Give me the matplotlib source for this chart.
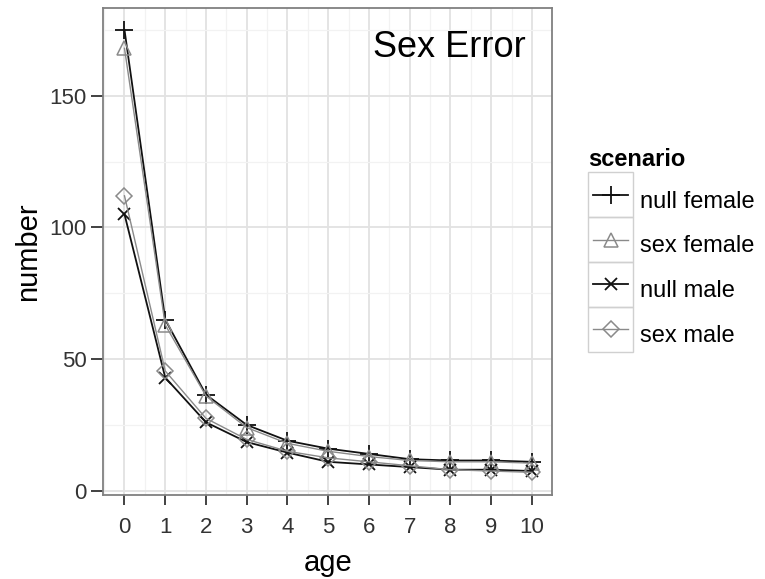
import matplotlib
matplotlib.use("Agg")
import matplotlib.pyplot as plt
from matplotlib.patches import Rectangle
from matplotlib.ticker import MultipleLocator

plt.rcParams['font.family'] = ['Liberation Sans', 'DejaVu Sans']

ages = [0, 1, 2, 3, 4, 5, 6, 7, 8, 9, 10]
null_female = [175, 65, 36.5, 25, 19, 16, 14, 12, 11.5, 11.5, 11]
sex_female = [168, 63, 36, 24, 18, 15, 13, 11.5, 11, 11, 10.5]
null_male = [105, 43, 26, 18.5, 14.5, 11, 10, 9, 8, 8, 7.5]
sex_male = [112, 45.5, 27.5, 19.5, 15, 12.5, 11, 9.5, 8, 7.5, 7]
series_names = ["null female", "sex female", "null male", "sex male"]
y_ticks = [0, 50, 100, 150]
x_ticks = ages

BLACK = '#111111'
GRAY = '#8A8A8A'
styles = [
    dict(color=BLACK, marker='+', ms=13, mew=1.3, lw=1.3),
    dict(color=GRAY, marker='^', ms=10, mew=1.1, lw=1.0, mfc='none'),
    dict(color=BLACK, marker='x', ms=9, mew=1.3, lw=1.3),
    dict(color=GRAY, marker='D', ms=8, mew=1.1, lw=1.0, mfc='none'),
]
data = [null_female, sex_female, null_male, sex_male]

fig = plt.figure(figsize=(7.65, 5.79), dpi=100)
ax = fig.add_axes([103.3 / 765, 1 - 495 / 579, (552.3 - 103.3) / 765, (495 - 8.3) / 579])

handles = []
for name, vals, st in zip(series_names, data, styles):
    h, = ax.plot(ages, vals, label=name, zorder=3, **st)
    handles.append(h)

ax.set_xlim(-0.52, 10.5)
ax.set_ylim(-1.6, 183.2)
ax.set_xticks(x_ticks)
ax.set_yticks(y_ticks)
ax.xaxis.set_minor_locator(MultipleLocator(0.5))
ax.yaxis.set_minor_locator(MultipleLocator(25))
ax.grid(which='major', color='#E2E2E2', lw=1.3, zorder=0)
ax.grid(which='minor', color='#F2F2F2', lw=0.9, zorder=0)
ax.set_axisbelow(True)
ax.tick_params(which='minor', length=0)
ax.tick_params(axis='x', which='major', length=7, width=1.3, color='#333333',
               labelsize=16, labelcolor='#333333', pad=9)
ax.tick_params(axis='y', which='major', length=9, width=1.3, color='#333333',
               labelsize=16, labelcolor='#333333', pad=3)
for sp in ax.spines.values():
    sp.set_color('#808080')
    sp.set_linewidth(1.3)

ax.set_xlabel('age', fontsize=21, labelpad=8)
ax.set_ylabel('number', fontsize=21, labelpad=5)
ax.text(0.77, 0.955, 'Sex Error', transform=ax.transAxes, fontsize=26,
        ha='center', va='top', color='black')

fig.text(588 / 765, 1 - 160 / 579, 'scenario', fontsize=17, fontweight='bold',
         ha='left', va='center')

leg = fig.legend(handles=handles, labels=series_names, loc='upper left',
                 bbox_to_anchor=(593 / 765, 1 - 182 / 579),
                 frameon=False, fontsize=17,
                 handlelength=1.5, handleheight=2.0, labelspacing=0.35,
                 handletextpad=0.5, borderpad=0.0, borderaxespad=0.0)

fig.canvas.draw()
renderer = fig.canvas.get_renderer()
for lh in leg.legend_handles:
    bb = lh.get_window_extent(renderer)
    cy = (bb.y0 + bb.y1) / 2
    cx = (bb.x0 + bb.x1) / 2
    rect = Rectangle((cx - 22.5, cy - 22.5), 45, 45, transform=None, fill=False,
                     edgecolor='#D0D0D0', lw=1.0)
    fig.patches.append(rect)

fig.savefig('out.png', dpi=100)
